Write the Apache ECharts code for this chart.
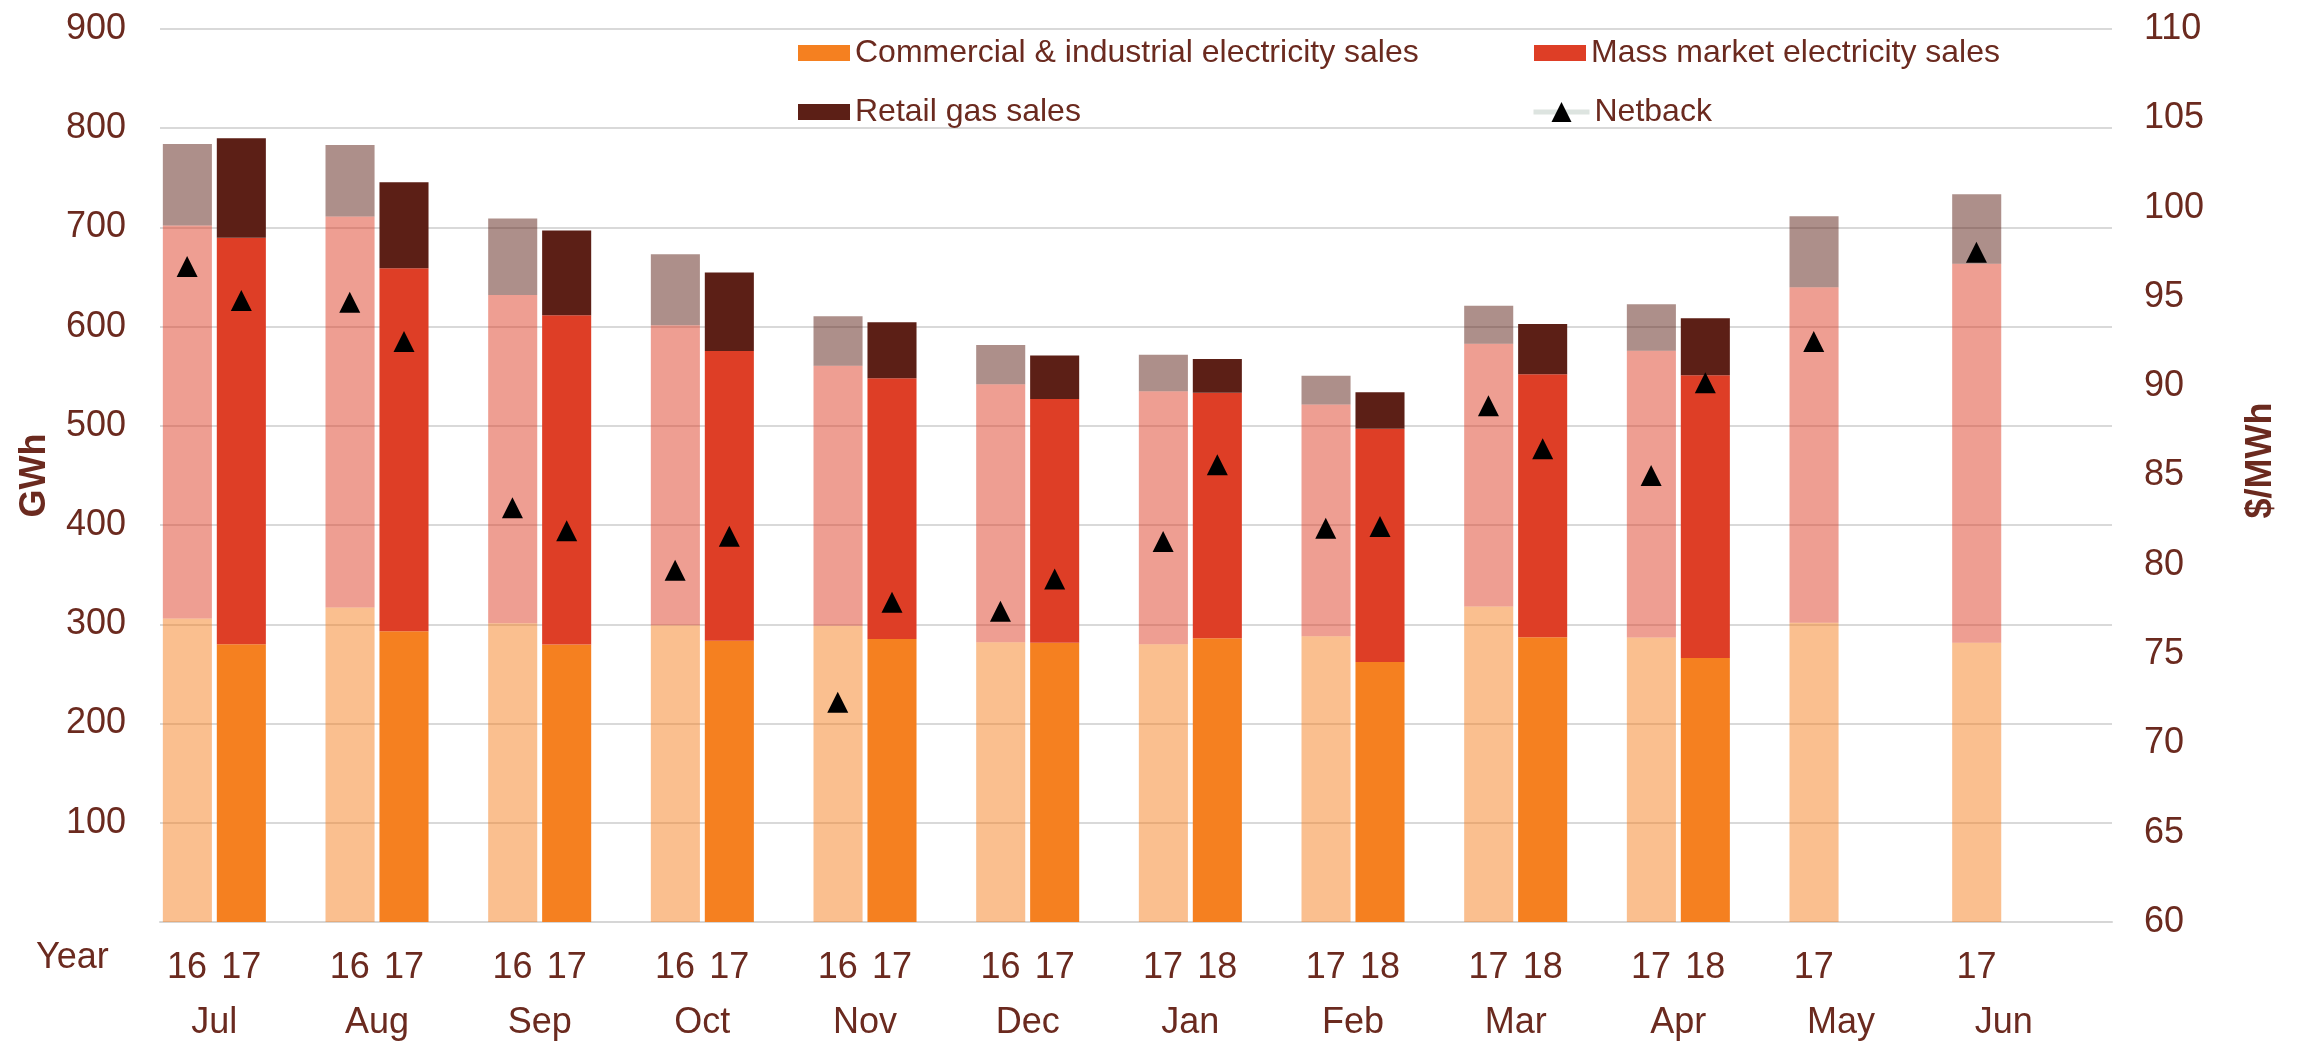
<!DOCTYPE html>
<html><head><meta charset="utf-8">
<script src="https://cdn.jsdelivr.net/npm/echarts@6/dist/echarts.min.js"></script>
<style>html,body{margin:0;padding:0;background:#fff}#chart{width:2305px;height:1045px}</style>
</head><body><div id="chart"></div>
<script>
// ---- data ----
const months = ['Jul','Aug','Sep','Oct','Nov','Dec','Jan','Feb','Mar','Apr','May','Jun'];
const priorYear = ['16','16','16','16','16','16','17','17','17','17','17','17'];
const currentYear = ['17','17','17','17','17','17','18','18','18','18','',''];
// GWh, stacked segments
const ciPrior   = [306, 317, 301, 299, 298.6, 282, 280, 288, 318, 286.7, 301.7, 281.4];
const massPrior = [396, 394, 331, 302.5, 262, 260, 255, 233.5, 264.7, 289, 338, 382];
const gasPrior  = [82, 72, 77, 71.5, 50, 39.5, 36.6, 29, 38.3, 47, 71.5, 70];
const ciCurrent   = [280, 293, 279.6, 283.5, 285.3, 281.4, 286, 262, 287, 266, null, null];
const massCurrent = [409.5, 366, 332, 292, 262.7, 245.6, 247.3, 235, 265, 285, null, null];
const gasCurrent  = [100.5, 86.6, 85.4, 79, 56.5, 43.9, 34.2, 37, 50.8, 57.6, null, null];
// $/MWh
const netbackPrior   = [96.7, 94.7, 83.2, 79.7, 72.3, 77.4, 81.3, 82.05, 88.9, 85.0, 92.5, 97.5];
const netbackCurrent = [94.8, 92.5, 81.9, 81.6, 77.9, 79.2, 85.6, 82.15, 86.5, 90.2, null, null];
// axis ticks
const gwhTicks = [0,100,200,300,400,500,600,700,800,900];
const priceTicks = [60,65,70,75,80,85,90,95,100,105,110];

const names = {
  ci: 'Commercial & industrial electricity sales',
  mass: 'Mass market electricity sales',
  gas: 'Retail gas sales',
  nb: 'Netback'
};
const C_CI = '#F58020', C_MASS = '#DE3E26', C_GAS = '#5C1F16';
const TXT = '#6B2A1F';
const FONT = 'Liberation Sans';

// three bar slots per month: prior year, current year, empty
const slotLabels = months.flatMap((m, i) => [priorYear[i], currentYear[i], '']);
const netbackSlots = months.flatMap((m, i) => [netbackPrior[i], netbackCurrent[i], null]);

const chart = echarts.init(document.getElementById('chart'));

function bar(name, data, stack, color, opacity) {
  return {
    name, type: 'bar', stack, data,
    xAxisIndex: 0, yAxisIndex: 0,
    barCategoryGap: '3.5%', barGap: '10%',
    itemStyle: { color, opacity },
    emphasis: { disabled: true }
  };
}

const option = {
  animation: false,
  backgroundColor: '#fff',
  textStyle: { fontFamily: FONT },
  grid: { left: 160, right: 193, top: 29, bottom: 123, containLabel: false },
  legend: [
    {
      orient: 'vertical', left: 793, top: 32, itemGap: 27,
      itemWidth: 52, itemHeight: 16, icon: 'rect',
      data: [names.ci, names.gas],
      textStyle: { fontSize: 32, color: TXT, fontFamily: FONT }
    },
    {
      orient: 'vertical', left: 1529, top: 32,
      itemWidth: 52, itemHeight: 16, icon: 'rect',
      data: [names.mass],
      textStyle: { fontSize: 32, color: TXT, fontFamily: FONT }
    },
    {
      orient: 'vertical', left: 1526, top: 91,
      itemWidth: 56, itemHeight: 25,
      data: [names.nb],
      lineStyle: { color: '#dde4e0', width: 5, opacity: 1 },
      itemStyle: { color: '#000', opacity: 1 },
      textStyle: { fontSize: 32, color: TXT, fontFamily: FONT }
    }
  ],
  graphic: [{
    type: 'text', left: 36, top: 940,
    style: { text: 'Year', fontSize: 36, fill: TXT, fontFamily: FONT }
  }],
  xAxis: [
    {
      type: 'category', data: months, gridIndex: 0, position: 'bottom',
      axisLine: { show: true, lineStyle: { color: '#d6d6d6', width: 2 } },
      axisTick: { show: false },
      axisLabel: { interval: 0, margin: 83, fontSize: 36, color: TXT, fontFamily: FONT,
                   padding: [0, 54, 0, 0] },
      splitLine: { show: false }
    },
    {
      type: 'category', data: slotLabels, gridIndex: 0, position: 'bottom',
      axisLine: { show: false }, axisTick: { show: false },
      axisLabel: { interval: 0, margin: 28, fontSize: 36, color: TXT, fontFamily: FONT },
      splitLine: { show: false }
    }
  ],
  yAxis: [
    {
      type: 'value', min: gwhTicks[0], max: gwhTicks[gwhTicks.length - 1],
      interval: gwhTicks[1] - gwhTicks[0],
      name: 'GWh', nameLocation: 'middle', nameRotate: 90, nameGap: 107,
      nameTextStyle: { fontSize: 36, fontWeight: 'bold', color: TXT, fontFamily: FONT },
      axisLine: { show: false }, axisTick: { show: false },
      axisLabel: { margin: 34, fontSize: 36, color: TXT, fontFamily: FONT, showMinLabel: false },
      splitLine: { show: true, lineStyle: { color: '#d9d9d9', width: 2 } }
    },
    {
      type: 'value', position: 'right',
      min: priceTicks[0], max: priceTicks[priceTicks.length - 1],
      interval: priceTicks[1] - priceTicks[0],
      name: '$/MWh', nameLocation: 'middle', nameRotate: 90, nameGap: 131,
      nameTextStyle: { fontSize: 36, fontWeight: 'bold', color: TXT, fontFamily: FONT,
                       padding: [0, 0, 0, 30] },
      axisLine: { show: false }, axisTick: { show: false },
      axisLabel: { margin: 32, fontSize: 36, color: TXT, fontFamily: FONT },
      splitLine: { show: false }
    }
  ],
  series: [
    bar(names.ci + ' (prior year)', ciPrior, 'prior', C_CI, 0.5),
    bar(names.mass + ' (prior year)', massPrior, 'prior', C_MASS, 0.5),
    bar(names.gas + ' (prior year)', gasPrior, 'prior', C_GAS, 0.5),
    bar(names.ci, ciCurrent, 'current', C_CI, 1),
    bar(names.mass, massCurrent, 'current', C_MASS, 1),
    bar(names.gas, gasCurrent, 'current', C_GAS, 1),
    bar('spacer', months.map(() => null), 'spacer', 'transparent', 0),
    {
      name: names.nb, type: 'line', xAxisIndex: 1, yAxisIndex: 1,
      data: netbackSlots, symbol: 'triangle', symbolSize: 21,
      showSymbol: true, showAllSymbol: true, connectNulls: false,
      lineStyle: { opacity: 0, color: '#dde4e0' },
      itemStyle: { color: '#000' },
      z: 5, emphasis: { disabled: true }
    }
  ]
};
chart.setOption(option);
</script></body></html>
